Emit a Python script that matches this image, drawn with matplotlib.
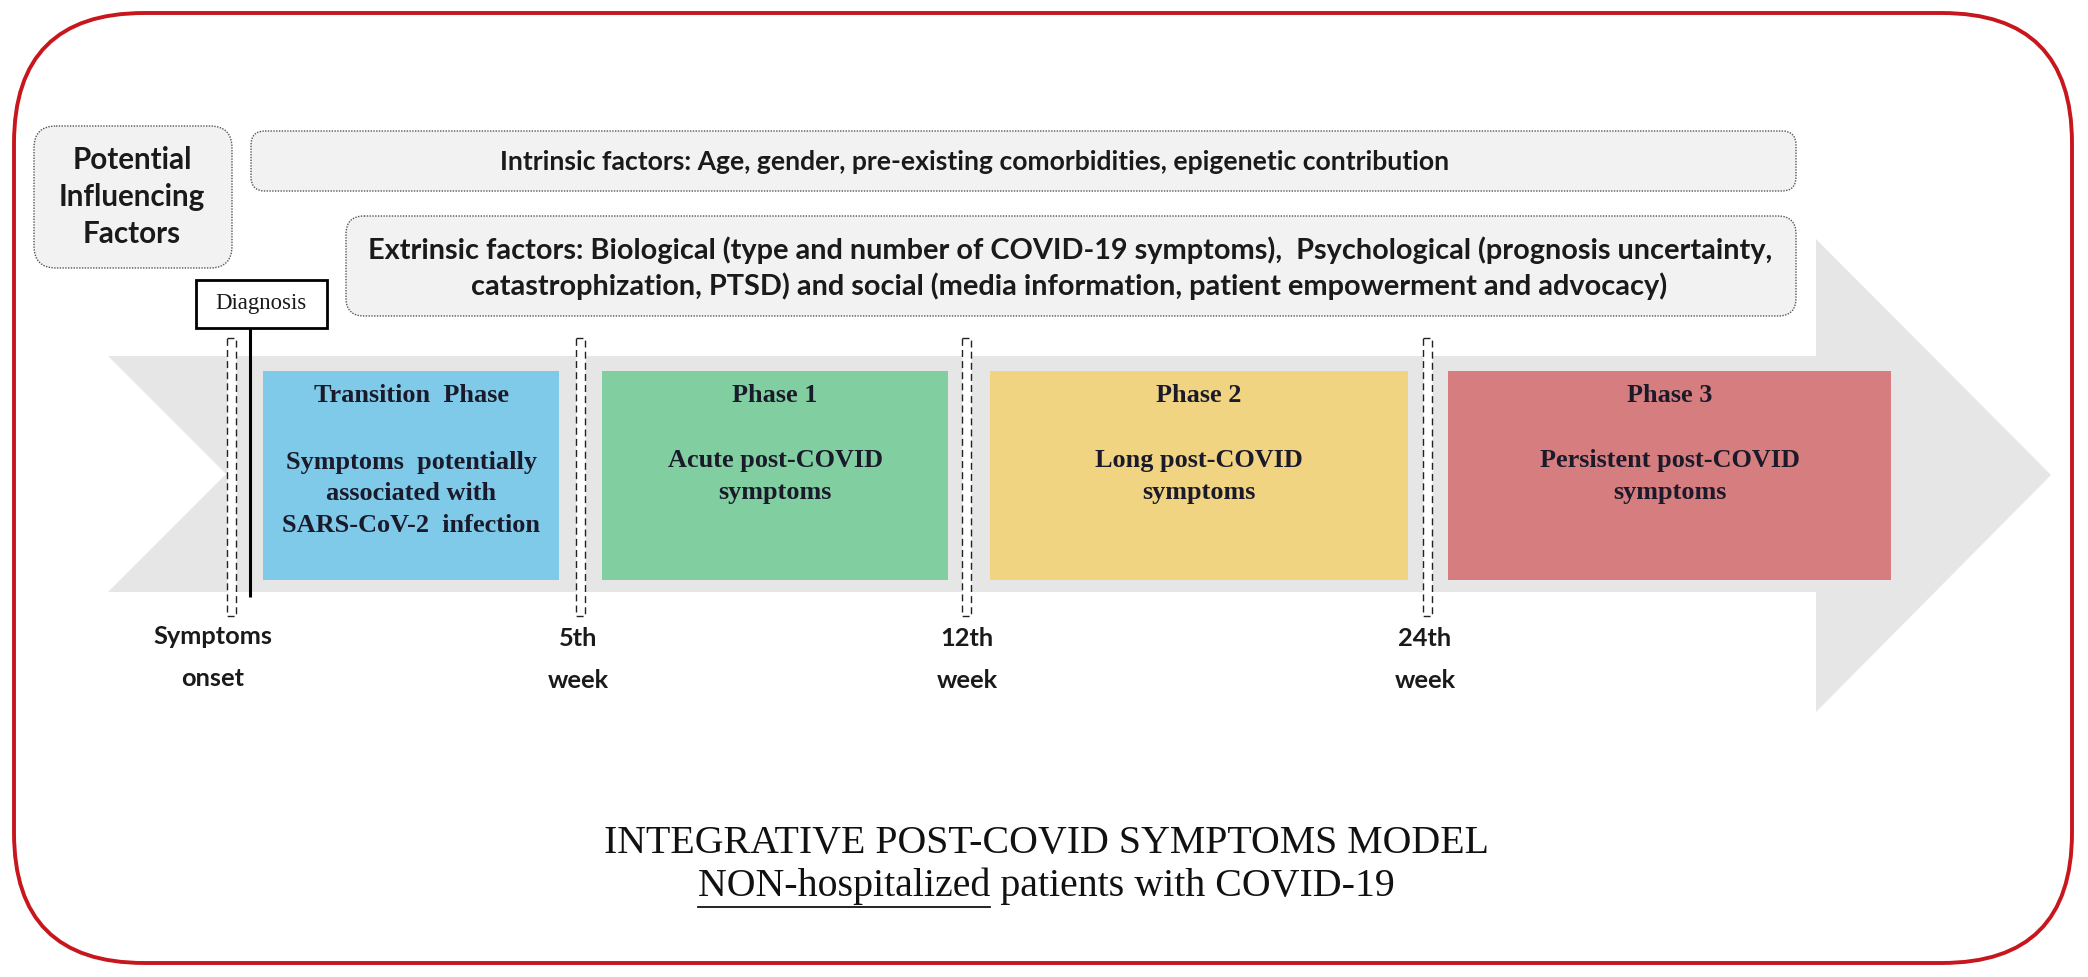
import matplotlib
matplotlib.use('Agg')
import matplotlib.pyplot as plt
from matplotlib.patches import FancyBboxPatch, Rectangle, Polygon

# ---- content ----
factor_title = ['Potential', 'Influencing', 'Factors']
intrinsic_text = 'Intrinsic factors: Age, gender, pre-existing comorbidities, epigenetic contribution'
extrinsic_lines = ['Extrinsic factors: Biological (type and number of COVID-19 symptoms),  Psychological (prognosis uncertainty,',
                   'catastrophization, PTSD) and social (media information, patient empowerment and advocacy)']
phase_names = ['Transition  Phase', 'Phase 1', 'Phase 2', 'Phase 3']
phase_desc = [['Symptoms  potentially', 'associated with', 'SARS-CoV-2  infection'],
              ['Acute post-COVID', 'symptoms'],
              ['Long post-COVID', 'symptoms'],
              ['Persistent post-COVID', 'symptoms']]
milestones = [['Symptoms', 'onset'], ['5th', 'week'], ['12th', 'week'], ['24th', 'week']]
diagnosis_label = 'Diagnosis'
title_line1 = 'INTEGRATIVE POST-COVID SYMPTOMS MODEL'
title_under = 'NON-hospitalized'
title_rest = ' patients with COVID-19'

# ---- layout (pixel units) ----
phase_x = [(263, 559), (602, 948), (990, 1408), (1448, 1891)]
phase_y = (371, 580)
phase_colors = ['#7fc9e9', '#81cea1', '#f0d481', '#d67d7f']
marker_x = [231, 580, 966, 1427]
label_x = [213, 578, 967, 1425]

SANS = ['Lato', 'DejaVu Sans']
SERIF = ['Liberation Serif', 'DejaVu Serif']

fig = plt.figure(figsize=(20.88, 9.77), dpi=100)
ax = fig.add_axes([0, 0, 1, 1])
ax.set_xlim(0, 2088)
ax.set_ylim(977, 0)
ax.axis('off')
renderer = fig.canvas.get_renderer()


def fit(t, target):
    # scale font so the text is `target` pixels wide
    t.set_fontsize(20)
    w = t.get_window_extent(renderer).width
    t.set_fontsize(20 * target / w)
    return t.get_fontsize()


# big grey arrow
ax.add_patch(Polygon([(108, 356), (1816, 356), (1816, 239), (2051, 475),
                      (1816, 712), (1816, 592), (108, 592), (226, 474)],
                     closed=True, facecolor='#e6e6e6', edgecolor='none', zorder=1))

# factor boxes
for (x0, y0, x1, y1, r) in [(34, 126, 232, 268, 22), (251, 131, 1796, 191, 14),
                            (346, 216, 1796, 316, 18)]:
    ax.add_patch(FancyBboxPatch((x0, y0), x1 - x0, y1 - y0,
                                boxstyle='round,pad=0,rounding_size=%d' % r,
                                facecolor='#f2f2f2', edgecolor='#555555',
                                linewidth=1.0, linestyle=(0, (1, 1)), zorder=2))

t = ax.text(132, 197, factor_title[1], ha='center', va='center', family=SANS,
            weight='bold', color='#1a1a1a', zorder=5)
fs = fit(t, 147)
ax.text(132, 160, factor_title[0], ha='center', va='center', family=SANS,
        weight='bold', color='#1a1a1a', fontsize=fs, zorder=5)
ax.text(132, 234, factor_title[2], ha='center', va='center', family=SANS,
        weight='bold', color='#1a1a1a', fontsize=fs, zorder=5)

t = ax.text(975, 162, intrinsic_text, ha='center', va='center', family=SANS,
            weight='bold', color='#1a1a1a', zorder=5)
fit(t, 951)

t = ax.text(1070, 250, extrinsic_lines[0], ha='center', va='center', family=SANS,
            weight='bold', color='#1a1a1a', zorder=5)
fs = fit(t, 1401)
ax.text(1069, 286, extrinsic_lines[1], ha='center', va='center', family=SANS,
        weight='bold', color='#1a1a1a', fontsize=fs, zorder=5)

# phase boxes
t = ax.text(411, 525, phase_desc[0][2], ha='center', va='center', family=SERIF,
            weight='bold', color='#1a1a2a', zorder=5)
fs_phase = fit(t, 258)
for i, name in enumerate(phase_names):
    x0, x1 = phase_x[i]
    ax.add_patch(Rectangle((x0, phase_y[0]), x1 - x0, phase_y[1] - phase_y[0],
                           facecolor=phase_colors[i], edgecolor='none', zorder=3))
    cx = (x0 + x1) / 2
    ax.text(cx, 396, name, ha='center', va='center', family=SERIF, weight='bold',
            color='#1a1a2a', fontsize=fs_phase, zorder=5)
    desc = phase_desc[i]
    if i == 0:
        ys = [462, 493]
        desc = desc[:2]
    else:
        ys = [460, 493]
    for line, yy in zip(desc, ys):
        ax.text(cx, yy, line, ha='center', va='center', family=SERIF, weight='bold',
                color='#1a1a2a', fontsize=fs_phase, zorder=5)

# milestone markers (dashed slim bars)
for mx in marker_x:
    ax.add_patch(Rectangle((mx - 4.5, 338), 9, 278, facecolor='white',
                           edgecolor='#222222', linewidth=1.0,
                           linestyle=(0, (5, 3)), zorder=4))

# diagnosis
ax.plot([250, 250], [328, 597], color='black', linewidth=2.2, zorder=6,
        solid_capstyle='butt')
ax.add_patch(Rectangle((196, 280), 131, 48, facecolor='white', edgecolor='black',
                       linewidth=2.0, zorder=6))
t = ax.text(261, 304, diagnosis_label, ha='center', va='center', family=SERIF,
            color='#1a1a1a', zorder=7)
fit(t, 91)

# milestone labels
t = ax.text(label_x[0], 637, milestones[0][0], ha='center', va='center', family=SANS,
            weight='bold', color='#1a1a1a', zorder=5)
fs = fit(t, 119)
ax.text(label_x[0], 678, milestones[0][1], ha='center', va='center', family=SANS,
        weight='bold', color='#1a1a1a', fontsize=fs, zorder=5)
for i in range(1, 4):
    ax.text(label_x[i], 638, milestones[i][0], ha='center', va='center', family=SANS,
            weight='bold', color='#1a1a1a', fontsize=fs, zorder=5)
    ax.text(label_x[i], 680, milestones[i][1], ha='center', va='center', family=SANS,
            weight='bold', color='#1a1a1a', fontsize=fs, zorder=5)

# title
t = ax.text(1046, 843, title_line1, ha='center', va='center', family=SERIF,
            color='#111111', zorder=5)
fs = fit(t, 885)
t2 = ax.text(1046, 886, title_under + title_rest, ha='center', va='center',
             family=SERIF, color='#111111', fontsize=fs, zorder=5)
w_all = t2.get_window_extent(renderer).width
tmp = ax.text(0, 0, title_under, family=SERIF, fontsize=fs)
w_under = tmp.get_window_extent(renderer).width
tmp.remove()
left = 1046 - w_all / 2
ax.plot([left, left + w_under], [907, 907], color='#111111', linewidth=1.3, zorder=5)

# red frame
ax.add_patch(FancyBboxPatch((14, 13), 2058, 950,
                            boxstyle='round,pad=0,rounding_size=130',
                            facecolor='none', edgecolor='#c8161d',
                            linewidth=2.8, zorder=8))

fig.savefig('out.png', dpi=100)
